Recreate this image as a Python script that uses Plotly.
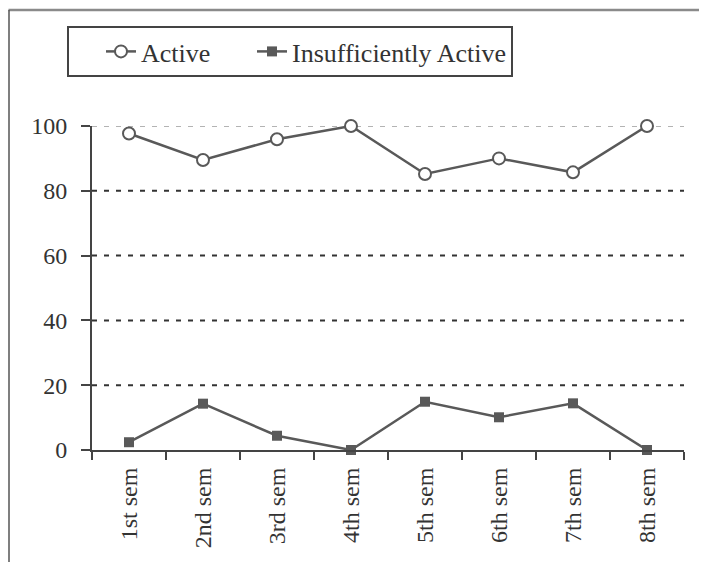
import plotly.graph_objects as go

semesters = ["1st sem", "2nd sem", "3rd sem", "4th sem", "5th sem", "6th sem", "7th sem", "8th sem"]
active = [97.7, 89.5, 95.9, 100, 85.2, 90.0, 85.7, 100]
insufficient = [2.4, 14.3, 4.4, 0, 14.9, 10.1, 14.4, 0]
y_ticks = [0, 20, 40, 60, 80, 100]

# the page body has an 8px margin, so work in window pixels and shift
OFF = 8
W, H = 707 - OFF, 562 - OFF
L, R, T, B = 92 - OFF, 684 - OFF, 126 - OFF, 450 - OFF  # plot area (figure px)


def px(x):
    """window pixel x -> paper x"""
    return (x - OFF - L) / (R - L)


def py(y):
    """window pixel y -> paper y"""
    return (B - (y - OFF)) / (B - T)


LINE = "#595959"
FONT = "Liberation Serif"

fig = go.Figure()
fig.add_trace(go.Scatter(
    x=semesters, y=active, name="Active", mode="lines+markers",
    legend="legend",
    line=dict(color=LINE, width=2.5),
    marker=dict(symbol="circle", size=12, color="white", line=dict(color=LINE, width=2)),
    cliponaxis=False,
))
fig.add_trace(go.Scatter(
    x=semesters, y=insufficient, name="Insufficiently Active", mode="lines+markers",
    legend="legend2",
    line=dict(color=LINE, width=2.5),
    marker=dict(symbol="square", size=10, color=LINE),
    cliponaxis=False,
))

shapes = []
for v in y_ticks[1:]:
    light = v == 100
    shapes.append(dict(
        type="line", xref="paper", yref="y", x0=0, x1=1, y0=v, y1=v,
        line=dict(color="#9a9a9a" if light else "#333333", width=1.5 if light else 2,
                  dash="5px,7px"),
        layer="below",
    ))
# outer frame (top and left edges)
shapes.append(dict(type="line", xref="paper", yref="paper",
                   x0=px(8.5), x1=px(707), y0=py(10), y1=py(10),
                   line=dict(color="#8a8a8a", width=2.5)))
shapes.append(dict(type="line", xref="paper", yref="paper",
                   x0=px(9), x1=px(9), y0=py(10), y1=py(562),
                   line=dict(color="#555555", width=1.5)))
# legend frame
shapes.append(dict(type="rect", xref="paper", yref="paper",
                   x0=px(68), x1=px(512), y0=py(27), y1=py(76),
                   line=dict(color="#444444", width=2), fillcolor="rgba(0,0,0,0)"))

legend_common = dict(
    orientation="h", xanchor="left", yanchor="middle",
    font=dict(family=FONT, size=26, color="#333333"),
    borderwidth=0, bgcolor="rgba(0,0,0,0)",
    itemsizing="trace",
)

fig.update_layout(
    width=W, height=H,
    margin=dict(l=L, r=W - R, t=T, b=H - B, pad=0),
    paper_bgcolor="white", plot_bgcolor="white",
    font=dict(family=FONT, size=24, color="#333333"),
    showlegend=True,
    legend=dict(x=px(101), y=py(51.5), **legend_common),
    legend2=dict(x=px(252), y=py(51.5), **legend_common),
    shapes=shapes,
    xaxis=dict(
        type="category", range=[-0.5, 7.5],
        showgrid=False, zeroline=False,
        showline=True, linecolor="#444444", linewidth=2,
        ticks="outside", ticklen=8, tickwidth=2, tickcolor="#444444",
        tickson="boundaries", tickangle=-90,
        tickfont=dict(family=FONT, size=24, color="#333333"),
        ticklabelstandoff=6,
    ),
    yaxis=dict(
        range=[0, 100], tickvals=y_ticks,
        showgrid=False, zeroline=False,
        showline=True, linecolor="#444444", linewidth=2,
        ticks="outside", ticklen=9, tickwidth=2, tickcolor="#444444",
        tickfont=dict(family=FONT, size=24, color="#333333"),
        ticklabelstandoff=9,
    ),
)

fig.write_html("out.html")
